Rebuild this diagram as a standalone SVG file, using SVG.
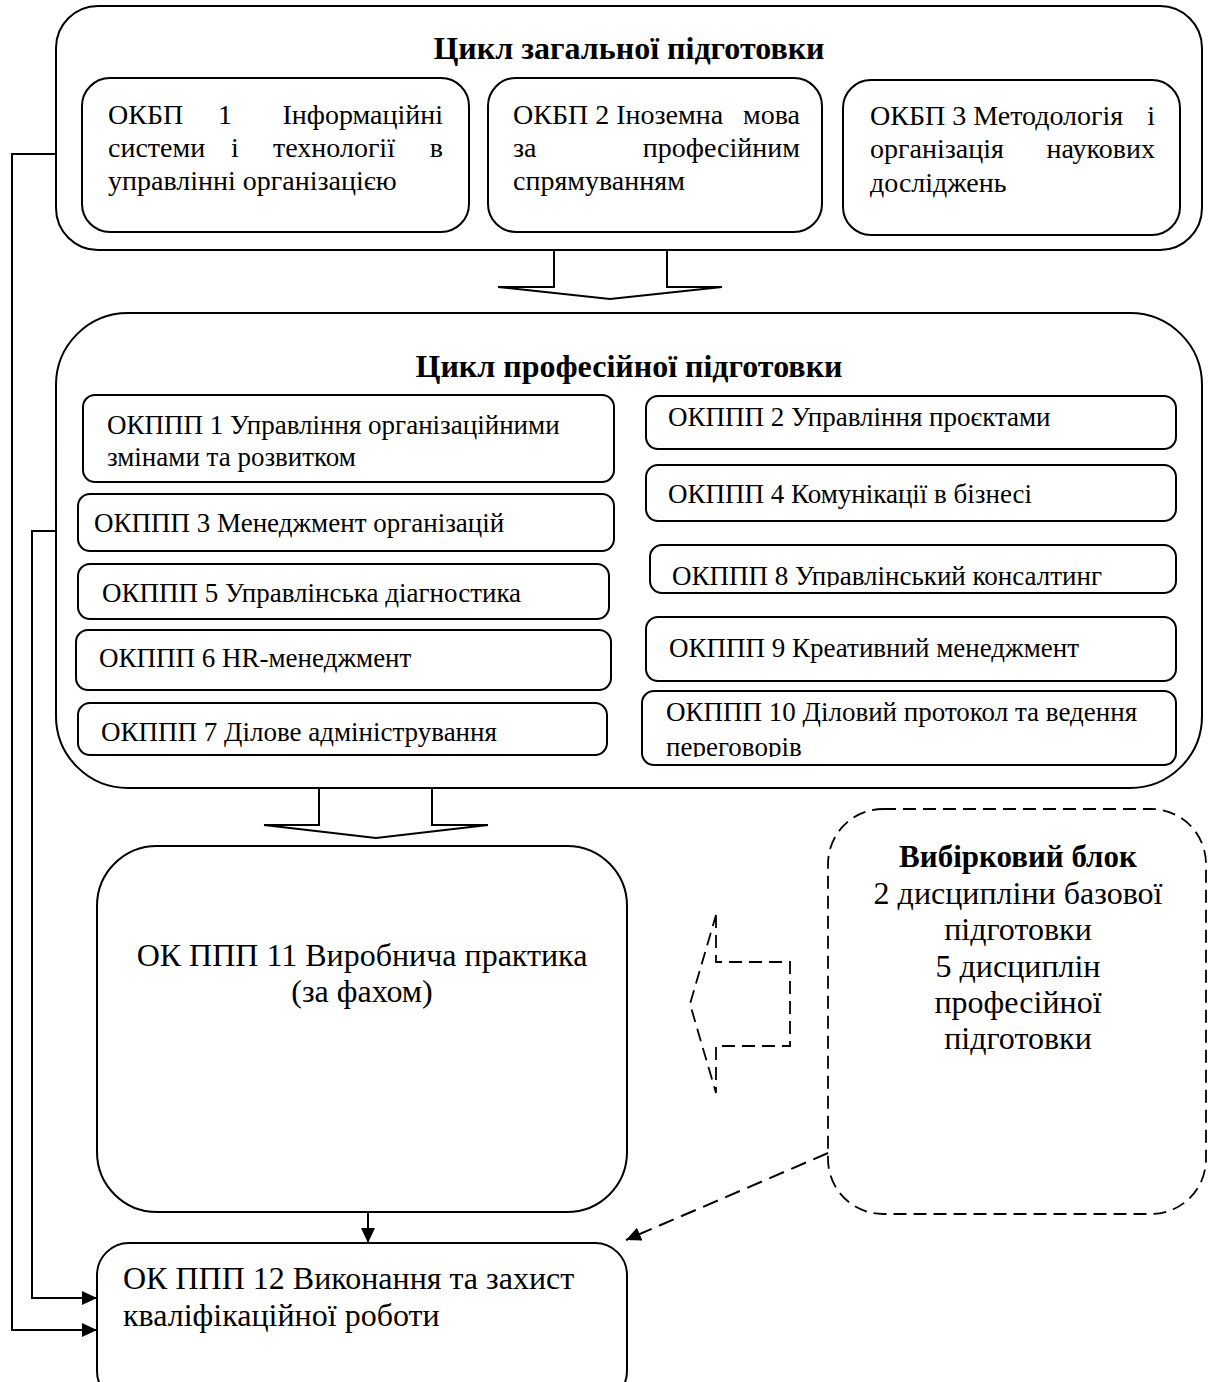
<svg xmlns="http://www.w3.org/2000/svg" width="1210" height="1382" viewBox="0 0 1210 1382">
<style>
.bx{fill:none;stroke:#000;stroke-width:2}
.ds{fill:none;stroke:#000;stroke-width:1.8;stroke-dasharray:13 7}
.ln{fill:none;stroke:#000;stroke-width:2}
.t{font-family:"Liberation Serif","Times New Roman",serif;fill:#000}
.tb{font-size:28px}
.tp{font-size:27px}
.tl{font-size:32px}
.tv{font-size:32px}
.h{font-size:32px;font-weight:bold}
.c{text-anchor:middle}
.e{text-anchor:end}
</style>
<defs>
<marker id="ah" viewBox="0 0 15 14" markerUnits="userSpaceOnUse" markerWidth="15" markerHeight="14" refX="15" refY="7" orient="auto"><path d="M0,0 L15,7 L0,14 z" fill="#000"/></marker>
<clipPath id="c8"><rect x="640" y="540" width="540" height="47"/></clipPath>
<clipPath id="c10"><rect x="636" y="686" width="545" height="71"/></clipPath>
</defs>
<rect width="1210" height="1382" fill="#fff"/>

<g id="cycle-general">
<rect class="bx" x="56" y="6" width="1146" height="244" rx="42" ry="42"/>
<text class="t h c" x="629" y="59">Цикл загальної підготовки</text>
</g>
<g id="okbp1">
<rect class="bx" x="82" y="78" width="387" height="154" rx="28" ry="28"/>
<text class="t tb" x="108" y="124">ОКБП</text>
<text class="t tb" x="218" y="124">1</text>
<text class="t tb e" x="443" y="124">Інформаційні</text>
<text class="t tb" x="108" y="157">системи</text>
<text class="t tb" x="231" y="157">і</text>
<text class="t tb" x="273" y="157">технології</text>
<text class="t tb e" x="443" y="157">в</text>
<text class="t tb" x="108" y="190">управлінні організацією</text>
</g>
<g id="okbp2">
<rect class="bx" x="488" y="78" width="334" height="154" rx="28" ry="28"/>
<text class="t tb" x="513" y="124">ОКБП 2 Іноземна</text>
<text class="t tb e" x="800" y="124">мова</text>
<text class="t tb" x="513" y="157">за</text>
<text class="t tb e" x="800" y="157">професійним</text>
<text class="t tb" x="513" y="190">спрямуванням</text>
</g>
<g id="okbp3">
<rect class="bx" x="843" y="80" width="337" height="155" rx="28" ry="28"/>
<text class="t tb" x="870" y="125">ОКБП 3 Методологія</text>
<text class="t tb e" x="1155" y="125">і</text>
<text class="t tb" x="870" y="158">організація</text>
<text class="t tb e" x="1155" y="158">наукових</text>
<text class="t tb" x="870" y="192">досліджень</text>
</g>

<g id="cycle-prof">
<rect class="bx" x="56" y="313" width="1146" height="475" rx="72" ry="72"/>
<text class="t h c" x="629" y="377">Цикл професійної підготовки</text>
</g>
<g id="okppp1">
<rect class="bx" x="83" y="395" width="531" height="87" rx="12" ry="12"/>
<text class="t tp" x="107" y="434">ОКППП 1 Управління організаційними</text>
<text class="t tp" x="107" y="466">змінами та розвитком</text>
</g>
<g id="okppp3">
<rect class="bx" x="78" y="494" width="536" height="57" rx="12" ry="12"/>
<text class="t tp" x="94" y="532">ОКППП 3 Менеджмент організацій</text>
</g>
<g id="okppp5">
<rect class="bx" x="78" y="564" width="531" height="55" rx="12" ry="12"/>
<text class="t tp" x="102" y="602">ОКППП 5 Управлінська діагностика</text>
</g>
<g id="okppp6">
<rect class="bx" x="76" y="630" width="535" height="60" rx="12" ry="12"/>
<text class="t tp" x="99" y="667">ОКППП 6 HR-менеджмент</text>
</g>
<g id="okppp7">
<rect class="bx" x="78" y="703" width="529" height="52" rx="12" ry="12"/>
<text class="t tp" x="101" y="741">ОКППП 7 Ділове адміністрування</text>
</g>
<g id="okppp2">
<rect class="bx" x="646" y="396" width="530" height="53" rx="12" ry="12"/>
<text class="t tp" x="668" y="426">ОКППП 2 Управління проєктами</text>
</g>
<g id="okppp4">
<rect class="bx" x="646" y="465" width="530" height="56" rx="12" ry="12"/>
<text class="t tp" x="668" y="503">ОКППП 4 Комунікації в бізнесі</text>
</g>
<g id="okppp8">
<rect class="bx" x="650" y="545" width="526" height="48" rx="12" ry="12"/>
<text class="t tp" x="672" y="585" clip-path="url(#c8)">ОКППП 8 Управлінський консалтинг</text>
</g>
<g id="okppp9">
<rect class="bx" x="646" y="617" width="530" height="64" rx="12" ry="12"/>
<text class="t tp" x="669" y="657">ОКППП 9 Креативний менеджмент</text>
</g>
<g id="okppp10">
<rect class="bx" x="642" y="691" width="534" height="74" rx="12" ry="12"/>
<g clip-path="url(#c10)">
<text class="t tp" x="666" y="721">ОКППП 10 Діловий протокол та ведення</text>
<text class="t tp" x="666" y="756">переговорів</text>
</g>
</g>

<g id="okppp11">
<rect class="bx" x="97" y="846" width="530" height="366" rx="60" ry="60"/>
<text class="t tl c" x="362" y="966">ОК ППП 11 Виробнича практика</text>
<text class="t tl c" x="362" y="1002">(за фахом)</text>
</g>
<g id="okppp12">
<rect class="bx" x="97" y="1243" width="530" height="160" rx="32" ry="32"/>
<text class="t tl" x="123" y="1289">ОК ППП 12 Виконання та захист</text>
<text class="t tl" x="123" y="1326">кваліфікаційної роботи</text>
</g>
<g id="elective">
<rect class="ds" x="828" y="809" width="378" height="405" rx="55" ry="55"/>
<text class="t c" x="1018" y="867" font-size="31" font-weight="bold">Вибірковий блок</text>
<text class="t tv c" x="1018" y="904">2 дисципліни базової</text>
<text class="t tv c" x="1018" y="940">підготовки</text>
<text class="t tv c" x="1018" y="977">5 дисциплін</text>
<text class="t tv c" x="1018" y="1013">професійної</text>
<text class="t tv c" x="1018" y="1049">підготовки</text>
</g>

<g id="connectors">
<polyline class="ln" points="554,250 554,287 498,287 610,299 722,287 667,287 667,250"/>
<polyline class="ln" points="319,788 319,825 264,825 376,838 488,825 432,825 432,788"/>
<polygon class="ds" points="716,915 716,962 790,962 790,1046 716,1046 716,1093 690,1004"/>
<path class="ln" d="M56,154 H12 V1330 H97" marker-end="url(#ah)"/>
<path class="ln" d="M56,531 H32 V1298 H97" marker-end="url(#ah)"/>
<path class="ln" d="M368,1212 V1243" marker-end="url(#ah)"/>
<path class="ln" d="M828,1153 L626,1240" stroke-dasharray="16 8" marker-end="url(#ah)"/>
</g>
</svg>
